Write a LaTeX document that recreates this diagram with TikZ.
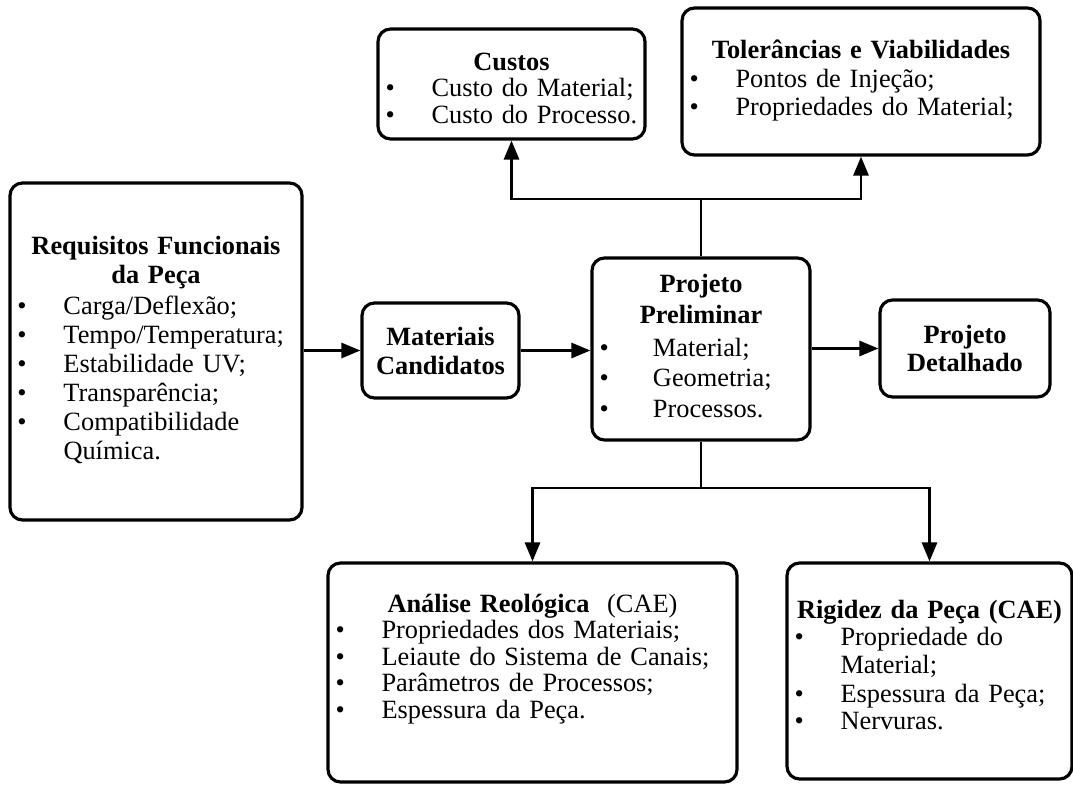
\documentclass[tikz,border=0pt]{standalone}
\usepackage{fontspec}
\setmainfont{Liberation Serif}
\usepackage{array}
\usepackage{xcolor}
\usepackage{tikz}
\usetikzlibrary{arrows.meta}

\lineskiplimit=-10pt
\newcommand{\titulo}[1]{{\centering
  \begin{tabular}[t]{@{}>{\bfseries}c@{}}#1\end{tabular}\par}}
\newcommand{\topico}[2][0.92cm]{\par\noindent\makebox[#1][l]{\textbullet}%
  \begin{tabular}[t]{@{}l@{}}#2\end{tabular}\par}
\newcommand{\folga}[1]{\par\nointerlineskip\vspace*{#1}\hbox{}}

\tikzset{
  bloco/.style={draw, line width=1.8pt, rounded corners=0.25cm, inner sep=0.15cm,
    font=\fontsize{15}{16}\selectfont},
  caixa/.style 2 args={bloco, minimum width=#1, text width=#1-0.3cm, minimum height=#2},
  lead/.style={font=\fontsize{15}{#1}\selectfont},
  linha/.style={line width=1.6pt},
  seta/.style={linha, -{Triangle[length=0.38cm,width=0.3cm]}}
}

\begin{document}
\begin{tikzpicture}

    \useasboundingbox (0,0) rectangle (21.46,15.72);
          % Keeps the page the size of the original figure.

    \node[caixa={5.84cm}{6.74cm}, lead=16.5pt] (req) at (3.12,8.69) {%
      \titulo{Requisitos Funcionais\\da Peça}
      \topico{Carga/Deflexão;}
      \topico{Tempo/Temperatura;}
      \topico{Estabilidade UV;}
      \topico{Transparência;}
      \topico{Compatibilidade\\Química.}};
    \node[bloco, align=center, minimum width=3.14cm, minimum height=1.9cm,
      lead=16.5pt] (mat) at (8.81,8.71) {\textbf{Materiais}\\\textbf{Candidatos}};
    \node[caixa={4.36cm}{3.64cm}, lead=17.6pt] (pre) at (14.02,8.74) {%
      \titulo{Projeto\\Preliminar}
      \topico[1.07cm]{Material;}
      \topico[1.07cm]{Geometria;}
      \topico[1.07cm]{Processos.}};
    \node[bloco, align=center, minimum width=3.4cm, minimum height=1.94cm,
      lead=15.5pt] (det) at (19.30,8.75) {\textbf{Projeto}\\\textbf{Detalhado}};
          % Middle row

    \node[caixa={5.34cm}{2.16cm}, lead=15.2pt, text height=0.67cm] (cus)
      at (10.23,14.04) {%
      \titulo{Custos}
      \topico{Custo do Material;}
      \topico{Custo do Processo.}};
    \node[caixa={7.16cm}{2.94cm}, lead=16.2pt] (tol) at (17.22,14.09) {%
      \titulo{Tolerâncias e Viabilidades}
      \topico{Pontos de Injeção;}
      \topico{Propriedades do Material;}};
          % Top row

    \node[caixa={8.18cm}{4.38cm}, lead=15pt] (ana) at (10.65,2.27) {%
      \titulo{Análise Reológica\ \ \mdseries(CAE)}
      \topico{Propriedades dos Materiais;}
      \topico{Leiaute do Sistema de Canais;}
      \topico{Parâmetros de Processos;}
      \topico{Espessura da Peça.}
      \folga{0.5cm}};
    \node[caixa={5.7cm}{4.32cm}, lead=15.5pt] (rig) at (18.59,2.30) {%
      \titulo{Rigidez da Peça (CAE)}
      \topico{Propriedade do\\Material;}
      \topico{Espessura da Peça;}
      \topico{Nervuras.}
      \folga{0.1cm}};
          % Bottom row

    \draw[seta] (req.east |- mat.west) -- (mat.west);
    \draw[seta] (mat.east) -- (mat.east -| pre.west);
    \draw[seta] (pre.east |- det.west) -- (det.west);

    \coordinate (ramo) at (14.02,11.74);
    \draw[linha] (pre.north) -- (ramo);
    \foreach \alvo in {cus,tol}{% branches going up
      \draw[seta] (ramo) -| (\alvo.south);
    }
    \coordinate (desvio) at (14.02,5.96);
    \draw[linha] (pre.south) -- (desvio);
    \foreach \alvo in {ana,rig}{% branches going down
      \draw[seta] (desvio) -| (\alvo.north);
    }

\end{tikzpicture}
\end{document}
